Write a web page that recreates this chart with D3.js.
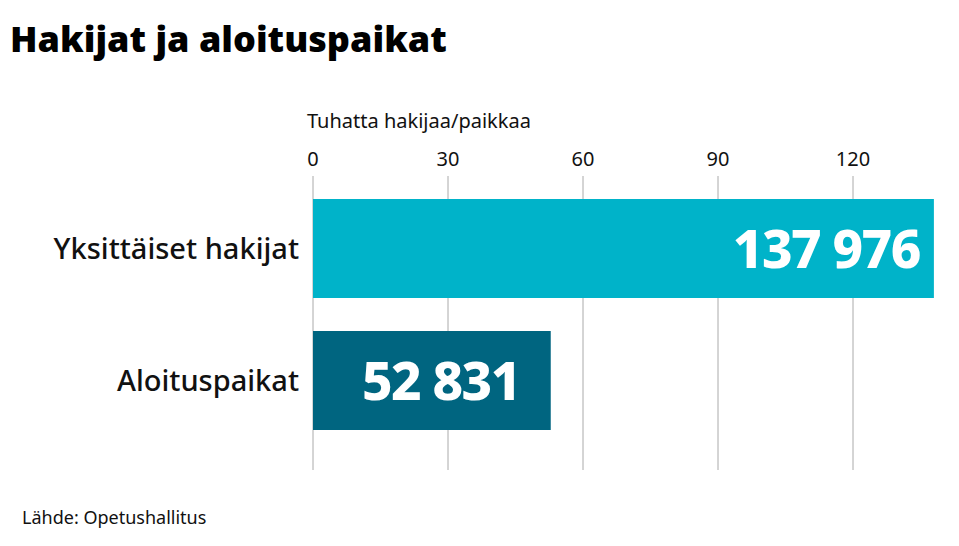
<!DOCTYPE html>
<html><head><meta charset="utf-8">
<script src="https://cdn.jsdelivr.net/npm/d3@7"></script>
<style>body{margin:0;background:#fff;font-family:"Noto Sans",sans-serif}</style>
</head><body><svg id="c" width="959" height="546"></svg>
<script>
var categories = ["Yksittäiset hakijat", "Aloituspaikat"],
    values = [137.976, 52.831],
    valueLabels = ["137 976", "52 831"],
    ticks = [0, 30, 60, 90, 120],
    colors = ["#00b3c9", "#006580"];

var svg = d3.select("#c");
var x = d3.scaleLinear().domain([0, 120]).range([313, 853]);
var y = d3.scaleBand().domain(categories).range([199, 430]).paddingInner(0.25);

svg.append("text").attr("x", 10).attr("y", 52).text("Hakijat ja aloituspaikat")
    .style("font-size", "36px").style("font-weight", 900);
svg.append("text").attr("x", 307).attr("y", 128).text("Tuhatta hakijaa/paikkaa")
    .style("font-size", "20px").attr("fill", "#111");

svg.selectAll("line.g").data(ticks).enter().append("line")
    .attr("x1", function (d) { return x(d); }).attr("x2", function (d) { return x(d); })
    .attr("y1", 176).attr("y2", 470).attr("stroke", "#aaa").attr("stroke-width", 1);
svg.selectAll("text.t").data(ticks).enter().append("text")
    .attr("x", function (d) { return x(d); }).attr("y", 166).attr("text-anchor", "middle")
    .style("font-size", "20px").attr("fill", "#111").text(function (d) { return d; });

svg.selectAll("rect.b").data(values).enter().append("rect")
    .attr("x", x(0)).attr("y", function (d, i) { return y(categories[i]); })
    .attr("width", function (d) { return x(d) - x(0); }).attr("height", y.bandwidth())
    .attr("fill", function (d, i) { return colors[i]; });

svg.selectAll("text.v").data(values).enter().append("text")
    .attr("x", function (d) { return x(d) < 600 ? (x(0) + x(d)) / 2 + 9 : x(d) - 14; })
    .attr("text-anchor", function (d) { return x(d) < 600 ? "middle" : "end"; })
    .attr("y", function (d, i) { return y(categories[i]) + y.bandwidth() / 2 + 19; })
    .attr("fill", "#fff")
    .style("font-size", "53px").style("font-weight", 800).style("letter-spacing", "-1.5px")
    .text(function (d, i) { return valueLabels[i]; });

svg.selectAll("text.c").data(categories).enter().append("text")
    .attr("x", 299).attr("y", function (d) { return y(d) + y.bandwidth() / 2 + 10; })
    .attr("text-anchor", "end").style("font-size", "29px").style("font-weight", 500).attr("fill", "#111")
    .text(function (d) { return d; });

svg.append("text").attr("x", 22).attr("y", 524).text("Lähde: Opetushallitus")
    .style("font-size", "18px").attr("fill", "#111");
</script></body></html>
